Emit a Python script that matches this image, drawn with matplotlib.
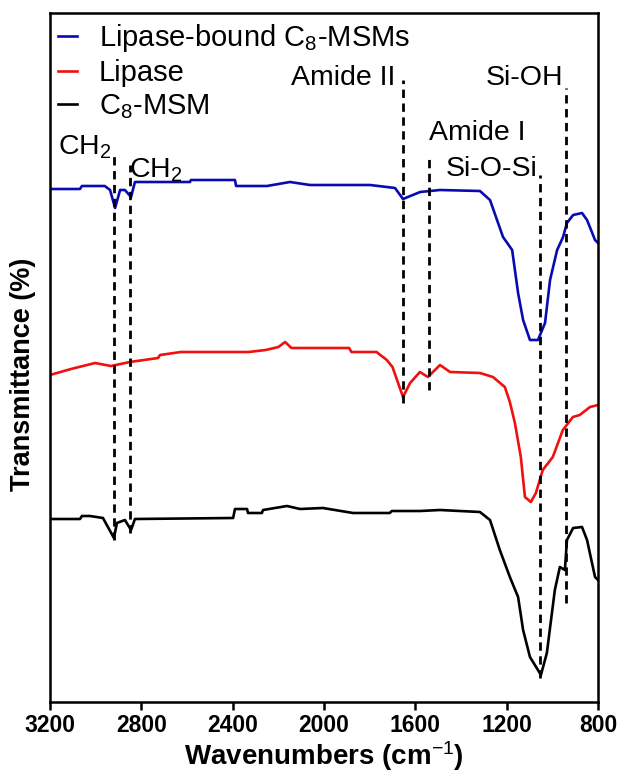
import matplotlib.pyplot as plt

plt.rcParams['font.family'] = ['Liberation Sans', 'DejaVu Sans']
plt.rcParams['mathtext.fontset'] = 'custom'
plt.rcParams['mathtext.rm'] = 'Liberation Sans'
plt.rcParams['mathtext.it'] = 'Liberation Sans'
plt.rcParams['mathtext.bf'] = 'Liberation Sans:bold'

# wavenumbers (cm-1) and offset transmittance
blue_wn = [3200, 3069, 3060, 2960, 2937, 2915, 2893, 2872, 2845, 2828,
           2587, 2583, 2390, 2385, 2250, 2149, 2061, 1798, 1689, 1654,
           1579, 1492, 1317, 1273, 1216, 1176, 1150, 1128, 1098, 1063,
           1032, 1010, 979, 953, 936, 909, 870, 848, 813, 800]
blue_t = [51.3, 51.3, 51.6, 51.6, 51.2, 49.4, 51.2, 51.2, 50.5, 52.0,
          52.0, 52.2, 52.2, 51.6, 51.6, 52.0, 51.7, 51.7, 51.4, 50.3,
          51.0, 51.2, 51.1, 50.2, 46.5, 45.2, 40.9, 38.2, 36.2, 36.2,
          37.9, 42.2, 45.2, 46.5, 47.9, 48.7, 48.9, 48.2, 46.2, 45.9]

red_wn = [3200, 3108, 3003, 2933, 2850, 2727, 2718, 2627, 2330, 2255,
          2200, 2170, 2143, 1890, 1880, 1770, 1725, 1700, 1654, 1623,
          1580, 1545, 1492, 1448, 1317, 1260, 1208, 1186, 1164, 1138,
          1120, 1094, 1072, 1042, 998, 954, 910, 880, 835, 800]
red_t = [32.7, 33.3, 33.9, 33.6, 34.0, 34.4, 34.7, 35.0, 35.0, 35.2,
         35.5, 36.0, 35.4, 35.4, 35.0, 35.0, 34.2, 33.5, 30.5, 31.9,
         33.0, 32.5, 33.7, 33.0, 32.9, 32.5, 31.5, 30.0, 27.9, 24.5,
         20.5, 20.0, 20.9, 23.2, 24.5, 27.2, 28.5, 28.7, 29.5, 29.7]

black_wn = [3200, 3069, 3060, 3025, 2968, 2920, 2907, 2872, 2845, 2828,
            2398, 2390, 2337, 2333, 2272, 2267, 2162, 2105, 2005, 1873,
            1712, 1703, 1580, 1492, 1317, 1273, 1230, 1186, 1150, 1128,
            1098, 1063, 1050, 1024, 989, 967, 945, 936, 909, 870,
            848, 813, 800]
black_t = [18.3, 18.3, 18.6, 18.6, 18.4, 16.4, 17.9, 18.2, 17.2, 18.3,
           18.4, 19.3, 19.3, 18.9, 18.9, 19.2, 19.6, 19.3, 19.4, 18.9,
           18.9, 19.1, 19.1, 19.2, 19.0, 18.2, 15.2, 12.5, 10.5, 7.2,
           4.5, 3.2, 2.7, 4.9, 11.2, 13.5, 13.2, 16.2, 17.4, 17.5,
           16.2, 12.5, 12.2]

labels = ['Lipase-bound C$_8$-MSMs', 'Lipase', 'C$_8$-MSM']

# marker lines: position, bottom, top
peak_wn = [2920, 2850, 1654, 1540, 1054, 940]
peak_lo = [16.2, 16.9, 29.9, 31.2, 2.4, 9.9]
peak_hi = [54.9, 53.7, 62.2, 54.5, 52.7, 61.4]

notes = ['CH$_2$', 'CH$_2$', 'Amide II', 'Amide I', 'Si-O-Si', 'Si-OH']
note_wn = [3047, 2736, 1915, 1330, 1268, 1122]
note_t = [55.5, 53.2, 62.4, 56.9, 53.3, 62.4]

fig = plt.figure(figsize=(6.23, 7.75), dpi=100)
ax = fig.add_axes([50 / 623, 73 / 775, 548 / 623, 689 / 775])

ax.plot(blue_wn, blue_t, color='#0a0ab4', lw=1.9, label=labels[0])
ax.plot(red_wn, red_t, color='#f01010', lw=1.9, label=labels[1])
ax.plot(black_wn, black_t, color='black', lw=1.9, label=labels[2])

for w, lo, hi in zip(peak_wn, peak_lo, peak_hi):
    ax.plot([w, w], [lo, hi], color='black', lw=2, ls=(0, (3, 2)))

for s, w, t in zip(notes, note_wn, note_t):
    ax.text(w, t, s, fontsize=20.5, ha='center', va='center')

ax.set_xlim(3200, 800)
ax.set_ylim(0, 68.9)
ax.set_xticks([3200, 2800, 2400, 2000, 1600, 1200, 800])
ax.set_yticks([])
ax.tick_params(axis='x', direction='out', length=6, width=1.8, labelsize=16.5, pad=3)
for lab in ax.get_xticklabels():
    lab.set_fontweight('bold')
for sp in ax.spines.values():
    sp.set_linewidth(1.8)

ax.set_xlabel('Wavenumbers (cm$^{-1}$)', fontsize=20, fontweight='bold', labelpad=1)
ax.set_ylabel('Transmittance (%)', fontsize=19.5, fontweight='bold')
ax.yaxis.set_label_coords(-0.026, 0.475)

ax.legend(loc='upper left', bbox_to_anchor=(0.015, 0.987), frameon=False,
          fontsize=21, handlelength=0.65, handletextpad=0.75, labelspacing=0.18,
          borderpad=0, borderaxespad=0)

plt.savefig('out.png', dpi=100)
